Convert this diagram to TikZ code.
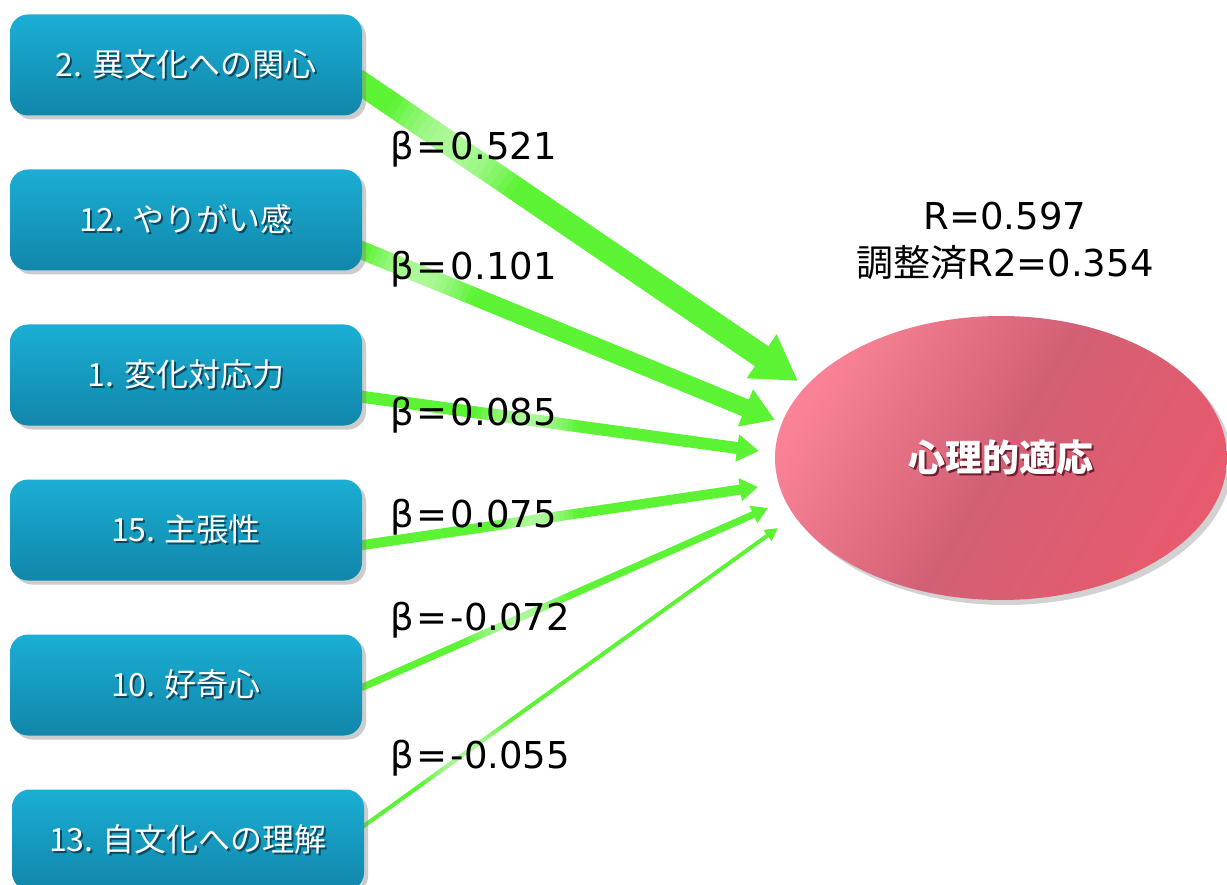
\documentclass[tikz,border=0pt]{standalone}
\usepackage{fontspec}
\setmainfont{DejaVu Sans}
\newfontfamily\jp{Noto Sans CJK JP}
\usetikzlibrary{arrows.meta,shapes.geometric,shadows,calc}
\pgfdeclarelayer{back}
\pgfdeclarelayer{arrowlayer}
\pgfsetlayers{back,arrowlayer,main}
\definecolor{agreen}{RGB}{92,243,52}
\definecolor{boxtop}{RGB}{27,174,212}
\definecolor{boxbot}{RGB}{17,134,170}
\definecolor{boxsh}{RGB}{12,72,96}
\definecolor{pinkL}{RGB}{249,130,150}
\definecolor{pinkM}{RGB}{210,96,116}
\definecolor{pinkR}{RGB}{232,90,110}
\definecolor{pinksh}{RGB}{110,30,45}
\newcommand\txtshadow[2]{\makebox[0pt][l]{\hspace*{2pt}\raisebox{-2pt}{\color{#1}#2}}#2}
\newcommand\eqs{\hspace{3pt}=\hspace{3pt}}
\newcommand\glare[5]{%
  \foreach \k in {0,...,19}{%
    \pgfmathsetmacro\gA{#3+(#4-#3)*\k/20}%
    \pgfmathsetmacro\gB{#3+(#4-#3)*(\k+1)/20}%
    \pgfmathsetmacro\gO{0.5*sin(180*(\k+0.5)/20)}%
    \draw[white,opacity=\gO,line width=#5,line cap=butt] ($(#1)!\gA!(#2)$) -- ($(#1)!\gB!(#2)$);
  }}
\tikzset{
  box/.style={rounded corners=18pt, minimum width=352pt, minimum height=101pt,
    top color=boxtop, bottom color=boxbot, draw=none, text=white, inner sep=0pt,
    font=\jp\fontsize{32}{38}\selectfont,
    drop shadow={shadow xshift=4pt, shadow yshift=-4pt, opacity=0.4}},
  lbl/.style={inner sep=0pt, text=black, font=\fontsize{37}{44}\selectfont},
  arr/.style={draw=agreen, line cap=butt},
}
\begin{document}
\begin{tikzpicture}[x=1pt,y=-1pt]
\begin{pgfonlayer}{back}
\fill[white] (0,0) rectangle (1227,885);
\end{pgfonlayer}
\useasboundingbox (0,0) rectangle (1227,885);

% input boxes
\node[box] (b1) at (186,65)  {\txtshadow{boxsh}{2. 異文化への関心}};
\node[box] (b2) at (186,220) {\txtshadow{boxsh}{12. やりがい感}};
\node[box] (b3) at (186,375) {\txtshadow{boxsh}{1. 変化対応力}};
\node[box] (b4) at (186,530) {\txtshadow{boxsh}{15. 主張性}};
\node[box] (b5) at (186,685) {\txtshadow{boxsh}{10. 好奇心}};
\node[box] (b6) at (188,840) {\txtshadow{boxsh}{13. 自文化への理解}};

% outcome ellipse
\node[ellipse, minimum width=452pt, minimum height=284pt, inner sep=0pt,
  top color=pinkL, bottom color=pinkR, middle color=pinkM, shading angle=60,
  drop shadow={shadow xshift=5pt, shadow yshift=-5pt, opacity=0.35},
  text=white, font=\jp\bfseries\fontsize{37}{44}\selectfont]
  (e) at (1001,458) {\txtshadow{pinksh}{心理的適応}};

% fit statistics
\node[lbl, anchor=base] (r1) at (1005,230) {R=0.597};
\node[lbl, anchor=base] (r2) at (1005,277) {{\jp 調整済}R2=0.354};

% arrow start / end points
\coordinate (s1) at ($(b1.east)+(-6,15)$);
\coordinate (s2) at ($(b2.east)+(-6,28)$);
\coordinate (s3) at ($(b3.east)+(-6,21)$);
\coordinate (s4) at ($(b4.east)+(-6,16)$);
\coordinate (s5) at ($(b5.east)+(-6,5)$);
\coordinate (s6) at ($(b6.east)+(-6,-10)$);
\coordinate (t1) at (798,381);
\coordinate (t2) at (775,420);
\coordinate (t3) at (759,451);
\coordinate (t4) at (758,487);
\coordinate (t5) at (768,508);
\coordinate (t6) at (778,528);

\begin{pgfonlayer}{arrowlayer}
\draw[arr, line width=24pt, -{Triangle[length=44pt,width=50pt]}] (s1) -- (t1);
\draw[arr, line width=18pt, -{Triangle[length=32pt,width=38pt]}] (s2) -- (t2);
\draw[arr, line width=12pt, -{Triangle[length=22pt,width=26pt]}] (s3) -- (t3);
\draw[arr, line width=10pt, -{Triangle[length=18pt,width=22pt]}] (s4) -- (t4);
\draw[arr, line width=7pt,  -{Triangle[length=16pt,width=18pt]}] (s5) -- (t5);
\draw[arr, line width=4pt,  -{Triangle[length=13pt,width=13pt]}] (s6) -- (t6);
\glare{s1}{t1}{0.08}{0.36}{24pt}
\glare{s2}{t2}{0.02}{0.28}{18pt}
\glare{s3}{t3}{0.30}{0.55}{12pt}
\glare{s4}{t4}{0.33}{0.55}{10pt}
\glare{s5}{t5}{0.26}{0.52}{7pt}
\glare{s6}{t6}{0.15}{0.36}{4pt}
\end{pgfonlayer}

% coefficient labels
\node[lbl, anchor=base west] (l1) at (390,160) {β\eqs 0.521};
\node[lbl, anchor=base west] (l2) at (390,280) {β\eqs 0.101};
\node[lbl, anchor=base west] (l3) at (390,425) {β\eqs 0.085};
\node[lbl, anchor=base west] (l4) at (390,527) {β\eqs 0.075};
\node[lbl, anchor=base west] (l5) at (390,630) {β\eqs -0.072};
\node[lbl, anchor=base west] (l6) at (390,768) {β\eqs -0.055};
\end{tikzpicture}
\end{document}
